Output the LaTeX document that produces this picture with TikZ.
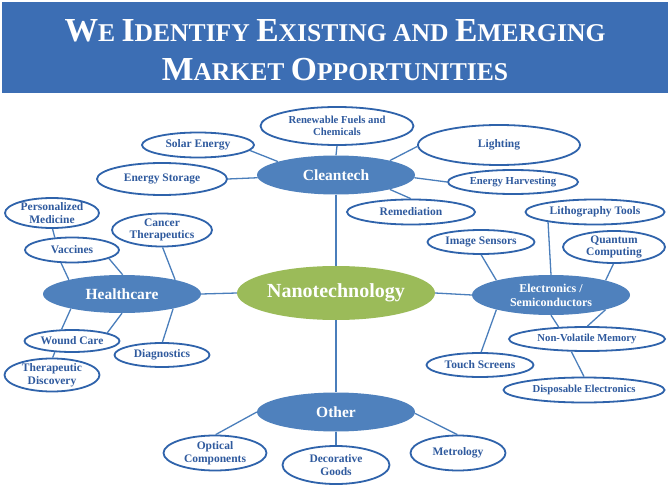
\documentclass[tikz,border=0pt]{standalone}
\usepackage{fontspec}
\setmainfont{Liberation Serif}
\usetikzlibrary{shapes.geometric}
\definecolor{banner}{HTML}{3C6EB4}
\definecolor{hub}{HTML}{4F81BD}
\definecolor{nanogreen}{HTML}{9BBB59}
\definecolor{rim}{HTML}{2F63AB}
\definecolor{ink}{HTML}{2F5A9E}
\definecolor{wirecol}{HTML}{4A7EBB}
\newcommand{\BigC}[1]{{\fontsize{33.6}{36}\selectfont #1}}
\tikzset{
  leaf/.style={ellipse, draw=rim, line width=1.8pt, fill=white, text=ink,
    font=\bfseries\fontsize{11.5}{12.5}\selectfont, align=center, inner sep=0pt},
  leafsmall/.style={leaf, font=\bfseries\fontsize{10.7}{12}\selectfont},
  hubnode/.style={ellipse, fill=hub, text=white,
    font=\bfseries\fontsize{15.5}{17}\selectfont, align=center, inner sep=0pt},
  sz/.style 2 args={minimum width=#1pt, minimum height=#2pt},
  wire/.style={draw=wirecol, line width=1.3pt},
  titletext/.style={text=white, font=\bfseries\fontsize{25.6}{28}\selectfont, inner sep=0pt, anchor=base}
}
\begin{document}
\begin{tikzpicture}[x=1pt,y=-1pt]
\useasboundingbox (0,0) rectangle (670,487);
\fill[white] (0,0) rectangle (670,487);
\fill[banner] (2,2) rectangle (668,93);
\node[titletext] (t1) at (335,42) {\BigC{W}E \BigC{I}DENTIFY \BigC{E}XISTING AND \BigC{E}MERGING};
\node[titletext] (t2) at (335,81) {\BigC{M}ARKET \BigC{O}PPORTUNITIES};

% hubs
\node[hubnode, sz={158}{39}] (clean) at (336,175) {Cleantech};
\node[hubnode, fill=nanogreen, sz={198}{54}, font=\bfseries\fontsize{20}{22}\selectfont] (nano) at (336,293) {Nanotechnology};
\node[hubnode, sz={158}{38}] (hc) at (122,294) {Healthcare};
\node[hubnode, sz={158}{40}, font=\bfseries\fontsize{12}{14}\selectfont] (el) at (551,295) {Electronics /\\Semiconductors};
\node[hubnode, sz={158}{39}] (oth) at (336,412) {Other};

% cleantech leaves
\node[leafsmall, sz={153}{38}] (ren) at (337,126) {Renewable Fuels and\\Chemicals};
\node[leaf, sz={112}{25}] (sol) at (198,145) {Solar Energy};
\node[leaf, sz={130}{32}] (sto) at (162,179) {Energy Storage};
\node[leaf, sz={162}{40}] (lig) at (499,145) {Lighting};
\node[leafsmall, sz={130}{24}] (eh) at (513,182) {Energy Harvesting};
\node[leaf, sz={128}{25}] (rem) at (411,212) {Remediation};

% electronics leaves
\node[leaf, sz={139}{25}] (lit) at (595,212) {Lithography Tools};
\node[leaf, sz={107}{24}] (img) at (481,242) {Image Sensors};
\node[leaf, sz={102}{32}] (qc) at (614,247) {Quantum\\Computing};
\node[leaf, sz={107}{24}] (ts) at (480,365) {Touch Screens};
\node[leafsmall, sz={156}{24}] (nvm) at (587,339) {Non-Volatile Memory};
\node[leafsmall, sz={161}{25}] (dis) at (584,390) {Disposable Electronics};

% healthcare leaves
\node[leaf, sz={94}{30}] (per) at (52,213) {Personalized\\Medicine};
\node[leaf, sz={100}{33}] (can) at (162,230) {Cancer\\Therapeutics};
\node[leaf, sz={94}{25}] (vac) at (72,250) {Vaccines};
\node[leaf, sz={95}{22}] (wc) at (72,341) {Wound Care};
\node[leaf, sz={95}{24}] (dia) at (162,355) {Diagnostics};
\node[leaf, sz={95}{33}] (the) at (52,375) {Therapeutic\\Discovery};

% other leaves
\node[leaf, sz={103}{35}] (opt) at (215,453) {Optical\\Components};
\node[leaf, sz={107}{38}] (dec) at (336,465) {Decorative\\Goods};
\node[leaf, sz={95}{35}] (met) at (458,453) {Metrology};

% connectors
\draw[wire] (clean.90) -- (ren.-90);
\draw[wire] (clean.167) -- (sol.-6);
\draw[wire] (clean.182) -- (sto.0);
\draw[wire] (clean.15) -- (lig.181);
\draw[wire] (clean.-2) -- (eh.180);
\draw[wire] (clean.-15) -- (rem.91);
\draw[wire] (clean.-90) -- (nano.90);
\draw[wire] (nano.180) -- (hc.0);
\draw[wire] (nano.0) -- (el.180);
\draw[wire] (nano.-90) -- (oth.90);
\draw[wire] (hc.165) -- (vac.-130);
\draw[wire] (hc.88) -- (vac.-13);
\draw[wire] (hc.15) -- (can.-88);
\draw[wire] (per.-88) -- (vac.144);
\draw[wire] (hc.196) -- (wc.132);
\draw[wire] (hc.-90) -- (wc.13);
\draw[wire] (hc.-16) -- (dia.88);
\draw[wire] (wc.-147) -- (the.88);
\draw[wire] (el.165) -- (img.-89);
\draw[wire] (el.90) -- (lit.-168);
\draw[wire] (el.15) -- (qc.-92);
\draw[wire] (el.195) -- (ts.85);
\draw[wire] (el.-90) -- (nvm.157);
\draw[wire] (el.-15) -- (nvm.88);
\draw[wire] (nvm.-141) -- (dis.90);
\draw[wire] (oth.180) -- (opt.88);
\draw[wire] (oth.-90) -- (dec.90);
\draw[wire] (oth.-1) -- (met.92);
\end{tikzpicture}
\end{document}
